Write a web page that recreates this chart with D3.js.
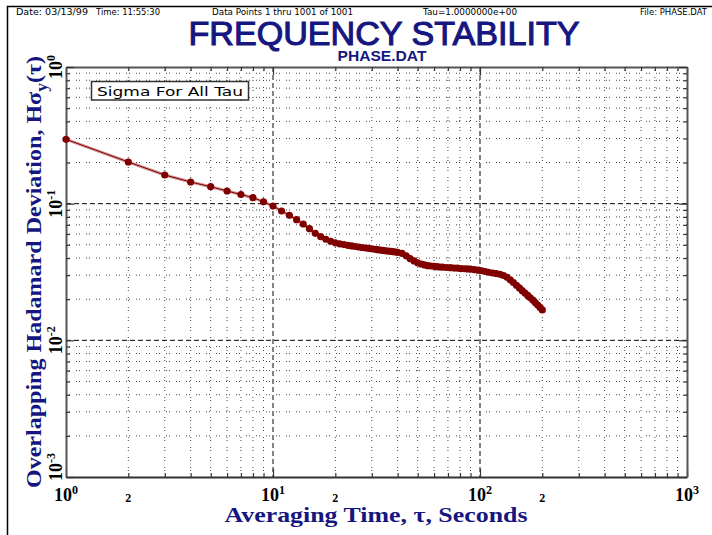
<!DOCTYPE html>
<html>
<head>
<meta charset="utf-8">
<script src="https://cdn.jsdelivr.net/npm/d3@7"></script>
<style>
  body { margin: 0; background: #fff; }
  svg { display: block; }
</style>
</head>
<body>
<svg id="chart" width="712" height="535"></svg>
<script>
// averaging times (s) and overlapping Hadamard deviation
const taus = [
  1, 2, 3, 4, 5, 6, 7, 8, 9, 10, 11, 12, 13, 14, 15, 16, 17, 18, 19, 20,
  21, 22, 23, 24, 25, 26, 27, 28, 29, 30, 31, 32, 33, 34, 35, 36, 37, 38, 39, 40,
  42, 44, 46, 48, 50, 52, 54, 56, 58, 60, 62, 64, 66, 69, 72, 75, 78, 81, 84, 87,
  90, 94, 98, 102, 106, 110, 115, 120, 125, 130, 135, 140, 145, 150, 155, 160,
  165, 170, 175, 180, 185, 190, 195, 200
];
const sigmas = [
  0.2958, 0.2018, 0.1621, 0.1441, 0.1331, 0.1238, 0.1167, 0.1106, 0.1032, 0.0961,
  0.0884, 0.0822, 0.0763, 0.0710, 0.0656, 0.0607, 0.0573, 0.0549, 0.0531, 0.0517,
  0.0508, 0.0502, 0.0496, 0.0491, 0.0486, 0.0482, 0.0478, 0.0474, 0.0471, 0.0468,
  0.0464, 0.0461, 0.0458, 0.0455, 0.0452, 0.0450, 0.0448, 0.0445, 0.0443, 0.0440,
  0.0433, 0.0415, 0.0396, 0.0381, 0.0369, 0.0362, 0.0356, 0.0352, 0.0350, 0.0348,
  0.0346, 0.0344, 0.0343, 0.0341, 0.0340, 0.0338, 0.0337, 0.0335, 0.0334, 0.0333,
  0.0332, 0.0329, 0.0326, 0.0323, 0.0319, 0.0315, 0.0311, 0.0308, 0.0304, 0.0298,
  0.0289, 0.0277, 0.0265, 0.0253, 0.0242, 0.0231, 0.0222, 0.0213, 0.0205, 0.0197,
  0.0189, 0.0181, 0.0174, 0.0167
];

const xDecades = [1, 10, 100, 1000];
const xDecadeExp = ['0', '1', '2', '3'];
const xTwos = [2, 20, 200];
const yDecades = [1, 0.1, 0.01, 0.001];
const yDecadeExp = ['0', '-1', '-2', '-3'];

const headerDate = 'Date: 03/13/99';
const headerTime = 'Time: 11:55:30';
const headerPoints = 'Data Points 1 thru 1001 of 1001';
const headerTau = 'Tau=1.0000000e+00';
const headerFile = 'File: PHASE.DAT';
const titleText = 'FREQUENCY STABILITY';
const subTitleText = 'PHASE.DAT';
const legendText = 'Sigma For All Tau';

const navy = '#161680';
const dotColor = '#800000';

const svg = d3.select('#chart');

const plot = { left: 66, right: 687, top: 67, bottom: 477 };

const x = d3.scaleLog().domain([1, 1000]).range([plot.left, plot.right]);
const y = d3.scaleLog().domain([0.001, 1]).range([plot.bottom, plot.top]);

const isDecade = v => Math.abs(Math.log10(v) - Math.round(Math.log10(v))) < 1e-9;

// page border
svg.append('path')
  .attr('d', 'M7.5,540 V6.5 H720')
  .attr('fill', 'none')
  .attr('stroke', '#000')
  .attr('stroke-width', 1.5);

// header
const header = svg.append('g')
  .attr('font-family', 'DejaVu Sans, sans-serif')
  .attr('font-size', 8)
  .attr('fill', '#000');
[[headerDate, 16, 72], [headerTime, 96, 64], [headerPoints, 212, 141],
 [headerTau, 423, 94], [headerFile, 640, 67]].forEach(([t, px, w]) => {
  header.append('text')
    .attr('x', px).attr('y', 15)
    .attr('textLength', w).attr('lengthAdjust', 'spacingAndGlyphs')
    .text(t);
});

// titles
svg.append('text')
  .attr('x', 384).attr('y', 45)
  .attr('text-anchor', 'middle')
  .attr('font-family', 'Liberation Sans, Arial, sans-serif')
  .attr('font-size', 34)
  .attr('fill', navy)
  .attr('stroke', navy).attr('stroke-width', 1.1)
  .attr('textLength', 391).attr('lengthAdjust', 'spacingAndGlyphs')
  .text(titleText);

svg.append('text')
  .attr('x', 382).attr('y', 61)
  .attr('text-anchor', 'middle')
  .attr('font-family', 'Liberation Sans, Arial, sans-serif')
  .attr('font-weight', 'bold')
  .attr('font-size', 15)
  .attr('fill', navy)
  .attr('textLength', 89).attr('lengthAdjust', 'spacingAndGlyphs')
  .text(subTitleText);

// grid
const grid = svg.append('g');
x.ticks().forEach(v => {
  if (v === 1 || v === 1000) return;
  const major = isDecade(v);
  grid.append('line')
    .attr('x1', x(v)).attr('x2', x(v))
    .attr('y1', plot.top).attr('y2', plot.bottom)
    .attr('stroke', major ? '#666' : '#444')
    .attr('stroke-width', major ? 1.6 : 1)
    .attr('stroke-dasharray', major ? '5,3' : '1,2,1,6');
});
y.ticks().forEach(v => {
  if (v === 1 || v === 0.001) return;
  const major = isDecade(v);
  grid.append('line')
    .attr('x1', plot.left).attr('x2', plot.right)
    .attr('y1', y(v)).attr('y2', y(v))
    .attr('stroke', major ? '#000' : '#444')
    .attr('stroke-width', 1)
    .attr('stroke-dasharray', major ? '5,3' : '1,2,1,6');
});

// axes with inward ticks
function tickLen(v) { return isDecade(v) ? 8 : 4; }

const axB = svg.append('g').attr('transform', `translate(0,${plot.bottom})`)
  .call(d3.axisBottom(x).tickFormat('').tickSizeOuter(0));
const axT = svg.append('g').attr('transform', `translate(0,${plot.top})`)
  .call(d3.axisTop(x).tickFormat('').tickSizeOuter(0));
const axL = svg.append('g').attr('transform', `translate(${plot.left},0)`)
  .call(d3.axisLeft(y).tickFormat('').tickSizeOuter(0));
const axR = svg.append('g').attr('transform', `translate(${plot.right},0)`)
  .call(d3.axisRight(y).tickFormat('').tickSizeOuter(0));

axB.selectAll('.tick line').attr('y2', d => -tickLen(d));
axT.selectAll('.tick line').attr('y2', d => tickLen(d));
axL.selectAll('.tick line').attr('x2', d => tickLen(d));
axR.selectAll('.tick line').attr('x2', d => -tickLen(d));
[axB, axT, axL, axR].forEach(a => {
  a.selectAll('.tick line').attr('stroke', '#333').attr('stroke-width', 1.2);
  a.select('.domain').attr('stroke', '#555').attr('stroke-width', 2);
});
axB.select('.domain').attr('stroke', '#333');

// x tick labels
const tickFont = 'Liberation Serif, Times New Roman, serif';
xDecades.forEach((v, i) => {
  const t = svg.append('text')
    .attr('x', x(v)).attr('y', 501)
    .attr('text-anchor', 'middle')
    .attr('font-family', tickFont).attr('font-weight', 'bold')
    .attr('font-size', 18).attr('fill', '#000');
  t.append('tspan').text('10');
  t.append('tspan').attr('dy', -7).attr('font-size', 12).text(xDecadeExp[i]);
});
xTwos.forEach(v => {
  svg.append('text')
    .attr('x', x(v)).attr('y', 502)
    .attr('text-anchor', 'middle')
    .attr('font-family', tickFont).attr('font-weight', 'bold')
    .attr('font-size', 12).attr('fill', '#000')
    .text('2');
});

// y tick labels (rotated)
yDecades.forEach((v, i) => {
  let cy = y(v);
  cy = Math.min(cy, plot.bottom - 10);
  const t = svg.append('text')
    .attr('transform', `translate(62,${cy}) rotate(-90)`)
    .attr('text-anchor', 'middle')
    .attr('font-family', tickFont).attr('font-weight', 'bold')
    .attr('font-size', 18).attr('fill', '#000');
  t.append('tspan').text('10');
  t.append('tspan').attr('dy', -7).attr('font-size', 12).text(yDecadeExp[i]);
});

// axis titles
svg.append('text')
  .attr('x', 376).attr('y', 522)
  .attr('text-anchor', 'middle')
  .attr('font-family', tickFont).attr('font-weight', 'bold')
  .attr('font-size', 22).attr('fill', navy)
  .attr('textLength', 303).attr('lengthAdjust', 'spacingAndGlyphs')
  .text('Averaging Time, \u03c4, Seconds');

const yt = svg.append('text')
  .attr('transform', 'translate(41,488) rotate(-90)')
  .attr('font-family', tickFont).attr('font-weight', 'bold')
  .attr('font-size', 22).attr('fill', navy)
  .attr('textLength', 432).attr('lengthAdjust', 'spacingAndGlyphs');
yt.append('tspan').text('Overlapping Hadamard Deviation, H\u03c3');
yt.append('tspan').attr('dy', 6).attr('font-size', 16).text('y');
yt.append('tspan').attr('dy', -6).text('(\u03c4)');

// legend box
svg.append('rect')
  .attr('x', 91.5).attr('y', 81.5).attr('width', 157).attr('height', 18.5)
  .attr('fill', '#fff').attr('stroke', '#333').attr('stroke-width', 1.5);
svg.append('text')
  .attr('x', 97).attr('y', 96)
  .attr('font-family', 'DejaVu Sans, sans-serif')
  .attr('font-size', 13).attr('fill', '#000')
  .attr('textLength', 146).attr('lengthAdjust', 'spacingAndGlyphs')
  .text(legendText);

// data
const pts = taus.map((t, i) => [t, sigmas[i]]);
const line = d3.line().x(d => x(d[0])).y(d => y(d[1]));

svg.append('path')
  .attr('d', line(pts))
  .attr('fill', 'none')
  .attr('stroke', '#d49a9a')
  .attr('stroke-width', 3);
svg.append('path')
  .attr('d', line(pts))
  .attr('fill', 'none')
  .attr('stroke', dotColor)
  .attr('stroke-width', 1);

svg.append('g').selectAll('circle')
  .data(pts)
  .enter()
  .append('circle')
  .attr('cx', d => x(d[0]))
  .attr('cy', d => y(d[1]))
  .attr('r', 3.6)
  .attr('fill', dotColor);
</script>
</body>
</html>
